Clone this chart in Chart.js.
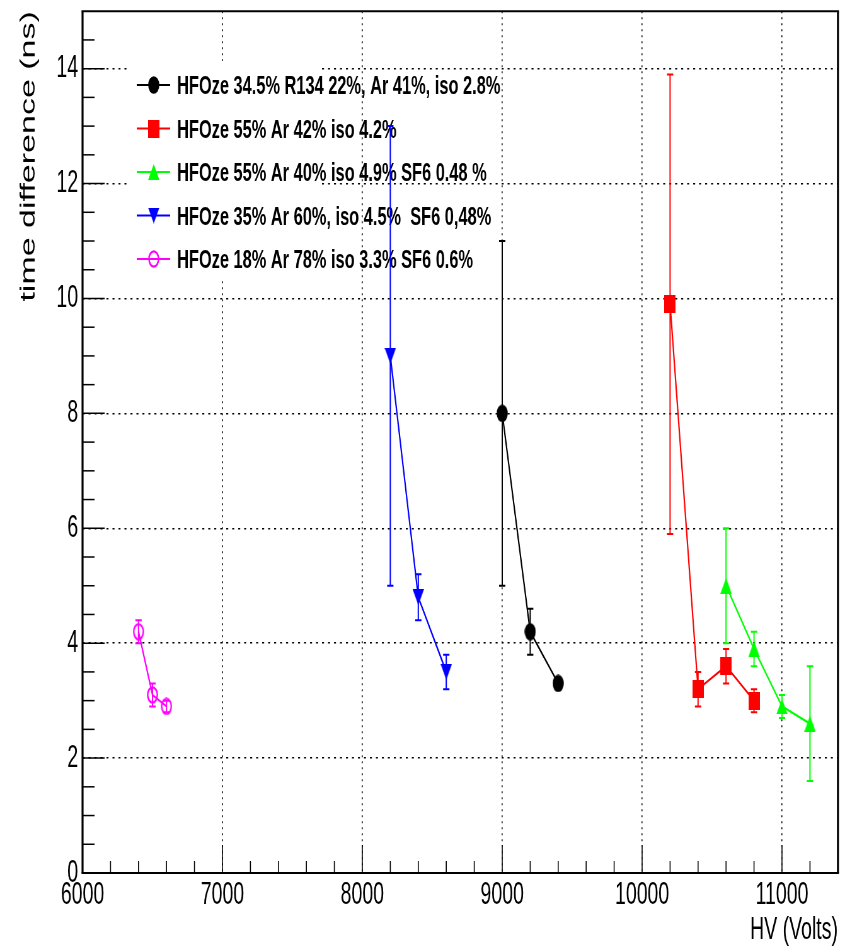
<!DOCTYPE html>
<html>
<head>
<meta charset="utf-8">
<title>time difference vs HV</title>
<script src="https://cdn.jsdelivr.net/npm/chart.js@4.4.1/dist/chart.umd.min.js"></script>
<style>
  html, body { margin: 0; padding: 0; background: #fff; }
</style>
</head>
<body>
<!-- drawn on a wider canvas and squeezed to 845px, like the narrow ROOT export -->
<canvas id="plot" width="1341" height="949" style="width:845px;height:949px;display:block"></canvas>
<script>
// gas mixtures
const seriesLabels = [
    'HFOze 34.5% R134 22%, Ar 41%, iso 2.8%',
    'HFOze 55% Ar 42% iso 4.2%',
    'HFOze 55% Ar 40% iso 4.9% SF6 0.48 %',
    'HFOze 35% Ar 60%, iso 4.5%  SF6 0,48%',
    'HFOze 18% Ar 78% iso 3.3% SF6 0.6%'
];

// HV (V), time difference (ns), error (ns)
const hvBlack = [9000, 9200, 9400];
const tBlack = [8.0, 4.2, 3.3];
const errBlack = [3.0, 0.4, 0.1];

const hvRed = [10200, 10400, 10600, 10800];
const tRed = [9.9, 3.2, 3.6, 3.0];
const errRed = [4.0, 0.3, 0.3, 0.2];

const hvGreen = [10600, 10800, 11000, 11200];
const tGreen = [5.0, 3.9, 2.9, 2.6];
const errGreen = [1.0, 0.3, 0.2, 1.0];

const hvBlue = [8200, 8400, 8600];
const tBlue = [9.0, 4.8, 3.5];
const errBlue = [4.0, 0.4, 0.3];

const hvMagenta = [6400, 6500, 6600];
const tMagenta = [4.2, 3.1, 2.9];
const errMagenta = [0.2, 0.2, 0.1];

const xMin = 6000, xMax = 11400, xStep = 200, xMajor = 1000;
const yMin = 0, yMax = 15, yStep = 0.5, yMajor = 2;

Chart.defaults.font.family = "'Liberation Sans', Arial, sans-serif";
Chart.defaults.color = '#000';

// ROOT-like markers as small canvases (centered on the point)
function makeMarker(shape, color) {
    const c = document.createElement('canvas');
    if (shape === 'up' || shape === 'down') {
        c.width = 18; c.height = 16;
    } else {
        c.width = 18; c.height = 18;
    }
    // context state is set after sizing, resizing would reset it
    const g = c.getContext('2d');
    g.fillStyle = color;
    g.strokeStyle = color;
    if (shape === 'circle') {
        g.beginPath(); g.arc(9, 9, 8.8, 0, Math.PI * 2); g.fill();
    } else if (shape === 'ring') {
        g.lineWidth = 2.4;
        g.beginPath(); g.arc(9, 9, 7.6, 0, Math.PI * 2); g.stroke();
    } else if (shape === 'square') {
        g.fillRect(0, 0, 18, 18);
    } else if (shape === 'up') {
        g.beginPath(); g.moveTo(0, 16); g.lineTo(18, 16); g.lineTo(9, 0); g.closePath(); g.fill();
    } else {
        g.beginPath(); g.moveTo(0, 0); g.lineTo(18, 0); g.lineTo(9, 16); g.closePath(); g.fill();
    }
    return c;
}

const groups = [
    { hv: hvBlack, t: tBlack, err: errBlack, color: '#000000', marker: makeMarker('circle', '#000000') },
    { hv: hvRed, t: tRed, err: errRed, color: '#ff0000', marker: makeMarker('square', '#ff0000') },
    { hv: hvGreen, t: tGreen, err: errGreen, color: '#00ff00', marker: makeMarker('up', '#00ff00') },
    { hv: hvBlue, t: tBlue, err: errBlue, color: '#0000ff', marker: makeMarker('down', '#0000ff') },
    { hv: hvMagenta, t: tMagenta, err: errMagenta, color: '#ff00ff', marker: makeMarker('ring', '#ff00ff') }
];

const datasets = groups.map((g, k) => ({
    label: seriesLabels[k],
    data: g.hv.map((v, i) => ({ x: v, y: g.t[i] })),
    showLine: true,
    borderColor: g.color,
    borderWidth: 2.2,
    pointStyle: g.marker,
    pointRadius: 9,
    pointHoverRadius: 9
}));

const rootStyle = {
    id: 'rootStyle',
    beforeDatasetsDraw(chart) {
        const ctx = chart.ctx;
        const { x, y } = chart.scales;

        // legend: white box (smaller than its text), lines + markers + labels
        ctx.save();
        ctx.fillStyle = '#fff';
        ctx.fillRect(205, 61, 305, 218);
        ctx.font = "bold 26px 'Liberation Sans', Arial, sans-serif";
        ctx.textBaseline = 'alphabetic';
        ctx.textAlign = 'left';
        groups.forEach((g, k) => {
            const ry = 85 + k * 43.5;
            ctx.strokeStyle = g.color;
            ctx.lineWidth = 2;
            ctx.beginPath(); ctx.moveTo(217, ry); ctx.lineTo(270, ry); ctx.stroke();
            ctx.drawImage(g.marker, 244 - g.marker.width / 2, ry - g.marker.height / 2);
            ctx.fillStyle = '#000';
            ctx.fillText(seriesLabels[k], 281, ry + 9);
        });
        ctx.restore();

        // error bars
        ctx.save();
        ctx.lineWidth = 2;
        groups.forEach(g => {
            ctx.strokeStyle = g.color;
            g.hv.forEach((v, i) => {
                const px = x.getPixelForValue(v);
                const hi = y.getPixelForValue(g.t[i] + g.err[i]);
                const lo = y.getPixelForValue(g.t[i] - g.err[i]);
                ctx.beginPath();
                ctx.moveTo(px, hi); ctx.lineTo(px, lo);
                ctx.moveTo(px - 5, hi); ctx.lineTo(px + 5, hi);
                ctx.moveTo(px - 5, lo); ctx.lineTo(px + 5, lo);
                ctx.stroke();
            });
        });
        ctx.restore();
    },
    afterDraw(chart) {
        const ctx = chart.ctx;
        const { left, right, top, bottom } = chart.chartArea;
        const { x, y } = chart.scales;
        ctx.save();
        ctx.strokeStyle = '#000';

        // tick marks inside the frame
        ctx.lineWidth = 1.6;
        x.ticks.forEach(t => {
            const px = x.getPixelForValue(t.value);
            if (px <= left + 1 || px >= right - 1) return;
            const len = t.value % xMajor === 0 ? 28 : 12;
            ctx.beginPath(); ctx.moveTo(px, bottom); ctx.lineTo(px, bottom - len); ctx.stroke();
        });
        ctx.lineWidth = 1.5;
        y.ticks.forEach(t => {
            const py = y.getPixelForValue(t.value);
            if (py >= bottom - 1 || py <= top + 1) return;
            const len = t.value % yMajor === 0 ? 35 : 19;
            ctx.beginPath(); ctx.moveTo(left, py); ctx.lineTo(left + len, py); ctx.stroke();
        });

        // frame
        ctx.lineWidth = 3.2;
        ctx.beginPath();
        ctx.moveTo(left, top); ctx.lineTo(left, bottom);
        ctx.moveTo(right, top); ctx.lineTo(right, bottom);
        ctx.stroke();
        ctx.lineWidth = 2;
        ctx.beginPath();
        ctx.moveTo(left - 1.6, top); ctx.lineTo(right + 1.6, top);
        ctx.moveTo(left - 1.6, bottom); ctx.lineTo(right + 1.6, bottom);
        ctx.stroke();
        ctx.restore();
    }
};

new Chart(document.getElementById('plot'), {
    type: 'scatter',
    data: { datasets },
    options: {
        responsive: false,
        animation: false,
        devicePixelRatio: 1,
        layout: { padding: { top: 8, right: 9, left: 0, bottom: 0 } },
        plugins: {
            legend: { display: false },
            tooltip: { enabled: false }
        },
        scales: {
            x: {
                type: 'linear',
                min: xMin,
                max: xMax,
                afterFit: s => { s.height = 76; s.paddingLeft = 0; s.paddingRight = 0; },
                ticks: {
                    stepSize: xStep,
                    autoSkip: false,
                    maxRotation: 0,
                    includeBounds: false,
                    padding: 4,
                    font: { size: 31 },
                    callback: v => (v % xMajor === 0 ? String(v) : '')
                },
                grid: {
                    drawTicks: false,
                    lineWidth: 1.6,
                    color: c => (c.tick && c.tick.value % xMajor === 0 && c.tick.value > xMin) ? '#000' : 'rgba(0,0,0,0)'
                },
                border: { display: false, dash: [2, 4] },
                title: {
                    display: true,
                    text: 'HV (Volts)',
                    align: 'end',
                    font: { size: 31 },
                    padding: { top: 0, bottom: 0 }
                }
            },
            y: {
                type: 'linear',
                min: yMin,
                max: yMax,
                afterFit: s => { s.width = 131; s.paddingTop = 0; s.paddingBottom = 0; },
                ticks: {
                    stepSize: yStep,
                    autoSkip: false,
                    padding: 7,
                    font: { size: 31 },
                    callback: v => (v % yMajor === 0 ? String(v) : '')
                },
                grid: {
                    drawTicks: false,
                    lineWidth: 1.5,
                    color: c => (c.tick && c.tick.value % yMajor === 0 && c.tick.value > yMin) ? '#000' : 'rgba(0,0,0,0)'
                },
                border: { display: false, dash: [3.2, 6.3] },
                title: {
                    display: true,
                    text: 'time difference (ns)',
                    align: 'end',
                    font: { size: 34 },
                    padding: { top: 25, bottom: 0 }
                }
            }
        }
    },
    plugins: [rootStyle]
});
</script>
</body>
</html>
